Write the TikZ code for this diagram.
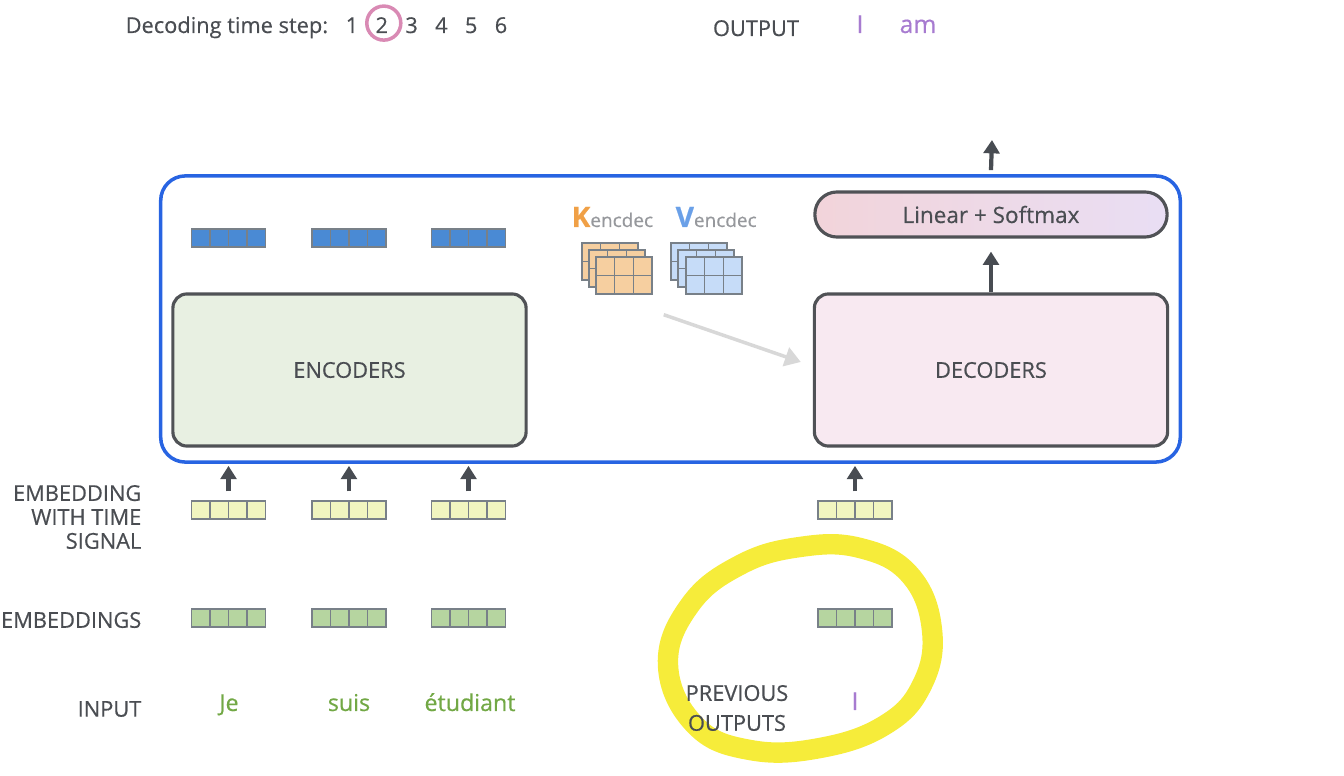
\documentclass[tikz,border=0pt]{standalone}
\usepackage{fontspec}
\setmainfont{Open Sans}[FakeBold=0.5]
\usetikzlibrary{positioning,arrows.meta}

\definecolor{txtgray}{RGB}{74,77,82}
\definecolor{boxline}{RGB}{80,82,86}
\definecolor{arrowgray}{RGB}{72,76,82}
\definecolor{frameblue}{RGB}{40,100,226}
\definecolor{encfill}{RGB}{232,240,226}
\definecolor{decfill}{RGB}{248,233,241}
\definecolor{lsleft}{RGB}{242,212,218}
\definecolor{lsright}{RGB}{233,222,244}
\definecolor{vecline}{RGB}{120,128,136}
\definecolor{vecblue}{RGB}{74,138,212}
\definecolor{vecyellow}{RGB}{240,245,192}
\definecolor{vecgreen}{RGB}{182,213,160}
\definecolor{kfill}{RGB}{246,207,160}
\definecolor{vfill}{RGB}{198,220,248}
\definecolor{korange}{RGB}{240,160,70}
\definecolor{vblue}{RGB}{106,160,232}
\definecolor{labgray}{RGB}{150,152,156}
\definecolor{wordgreen}{RGB}{114,168,69}
\definecolor{outpurple}{RGB}{167,123,208}
\definecolor{stepring}{RGB}{217,138,180}
\definecolor{kvgray}{RGB}{216,216,216}
\definecolor{marker}{RGB}{246,236,58}

\begin{document}
\begin{tikzpicture}[x=0.01cm, y=-0.01cm, >={Triangle[width=4.5pt,length=3.8pt]},
  every node/.style={font=\fontsize{6.2}{6.8}\selectfont, text=txtgray},
  bigbox/.style={draw=boxline, line width=0.9pt, rounded corners=4pt, minimum width=3.53cm, minimum height=1.52cm},
  vec/.style={draw=vecline, fill=#1, line width=0.4pt, minimum width=0.74cm, minimum height=0.18cm, inner sep=0pt,
    path picture={\foreach \k in {1,2,3}
      \draw[vecline, line width=0.4pt] ([xshift=\k*0.185cm]path picture bounding box.south west) -- ([xshift=\k*0.185cm]path picture bounding box.north west);}},
  mat/.style={draw=vecline, fill=#1, line width=0.4pt, minimum width=0.56cm, minimum height=0.37cm, inner sep=0pt,
    path picture={\foreach \k in {1,2}
      \draw[vecline, line width=0.4pt] ([xshift=\k*0.1867cm]path picture bounding box.south west) -- ([xshift=\k*0.1867cm]path picture bounding box.north west);
      \draw[vecline, line width=0.4pt] ([yshift=0.185cm]path picture bounding box.south west) -- ([yshift=0.185cm]path picture bounding box.south east);}},
  uparrow/.style={->, draw=arrowgray, line width=1.2pt},
  word/.style={anchor=base, font=\fontsize{6.6}{7}\selectfont, text=wordgreen},
  outword/.style={anchor=base, font=\fontsize{7}{7}\selectfont, text=outpurple}]

  \useasboundingbox (0,0) rectangle (1344,776);

  % highlighter round the previous outputs
  \draw[marker, line width=5.8pt, line join=round] plot[smooth cycle, tension=0.7] coordinates {(668,665) (690,605) (740,565) (800,547) (860,548) (910,575) (932,630) (922,685) (885,725) (820,748) (750,750) (695,725)};

  % header
  \node[anchor=base west, inner sep=0pt] (steplab) at (125,33) {Decoding time step:};
  \foreach \d in {1,...,6}
    \node[anchor=base, inner sep=0pt] (t\d) at ({352+29.8*(\d-1)},33) {\d};
  \draw[stepring, line width=1pt] ([xshift=0.02cm,yshift=0.02cm]t2.center) circle (0.17cm);
  \node[anchor=base] (outlab) at (756,36) {OUTPUT};
  \node[outword] (out1) at (860,33) {I};
  \node[outword] (out2) at (918,33) {am};

  % the model
  \node[draw=frameblue, line width=1pt, rounded corners=7pt, minimum width=10.19cm, minimum height=2.86cm] (frame) at (670.5,319) {};
  \node[bigbox, fill=encfill] (enc) at (349.5,370) {ENCODERS};
  \node[bigbox, fill=decfill] (dec) at (991,370) {DECODERS};
  \node[draw=boxline, line width=0.9pt, rounded corners=0.22cm, left color=lsleft, right color=lsright, minimum width=3.52cm, minimum height=0.45cm, font=\fontsize{6.4}{7}\selectfont] (lin) at (991,214.5) {Linear + Softmax};
  \draw[uparrow] (dec.north) -- ([yshift=-0.13cm]lin.south);
  \coordinate (out) at (992,140);
  \draw[uparrow] ([yshift=0.04cm]lin.north |- frame.north) -- (out);

  % encoder-decoder keys and values
  \node[anchor=base west, inner sep=0pt] (klab) at (571,227) {\textcolor{korange}{\fontsize{8}{8}\selectfont\bfseries K}\textcolor{labgray}{\fontsize{5.4}{6}\selectfont encdec}};
  \node[anchor=base west, inner sep=0pt] (vlab) at (675,227) {\textcolor{vblue}{\fontsize{8}{8}\selectfont\bfseries V}\textcolor{labgray}{\fontsize{5.4}{6}\selectfont encdec}};
  \foreach \i/\x/\y in {1/610/261.5, 2/617/268.5, 3/624/275.5}
    \node[mat=kfill] (kmat\i) at (\x,\y) {};
  \foreach \i/\x/\y in {1/699/261.5, 2/706/268.5, 3/714/275.5}
    \node[mat=vfill] (vmat\i) at (\x,\y) {};
  \draw[->, >={Triangle[width=5.5pt,length=4.5pt]}, kvgray, line width=1pt] ([shift={(11,20)}]kmat3.south east) -- ([shift={(-12,-8)}]dec.west);

  % vectors under and over the encoders
  \foreach \i/\x in {1/228.5, 2/349, 3/468.5} {
    \node[vec=vecblue] (top\i) at (\x,238) {};
    \node[vec=vecyellow] (sig\i) at (\x,510) {};
    \node[vec=vecgreen] (emb\i) at (\x,618) {};
    \draw[uparrow] ([yshift=0.09cm]sig\i.north) -- ([yshift=-0.02cm]sig\i.north |- frame.south);
  }
  \node[vec=vecyellow] (sig4) at (855,510) {};
  \node[vec=vecgreen] (emb4) at (855,618) {};
  \draw[uparrow] ([yshift=0.09cm]sig4.north) -- ([yshift=-0.02cm]sig4.north |- frame.south);

  % row labels
  \node[anchor=east, align=right, inner sep=0pt] (siglab) at (142,517) {EMBEDDING\\WITH TIME\\SIGNAL};
  \node[anchor=east, inner sep=0pt] (emblab) at (142,620) {EMBEDDINGS};
  \node[anchor=east, inner sep=0pt] (inlab) at (142,709) {INPUT};

  % inputs
  \node[word] (w1) at (229,711) {Je};
  \node[word] (w2) at (349,711) {suis};
  \node[word] (w3) at (470,711) {étudiant};
  \node[align=center, font=\fontsize{6.2}{8.5}\selectfont] (prevlab) at (737,708) {PREVIOUS\\OUTPUTS};
  \node[outword] (prev1) at (855,710) {I};
\end{tikzpicture}
\end{document}
